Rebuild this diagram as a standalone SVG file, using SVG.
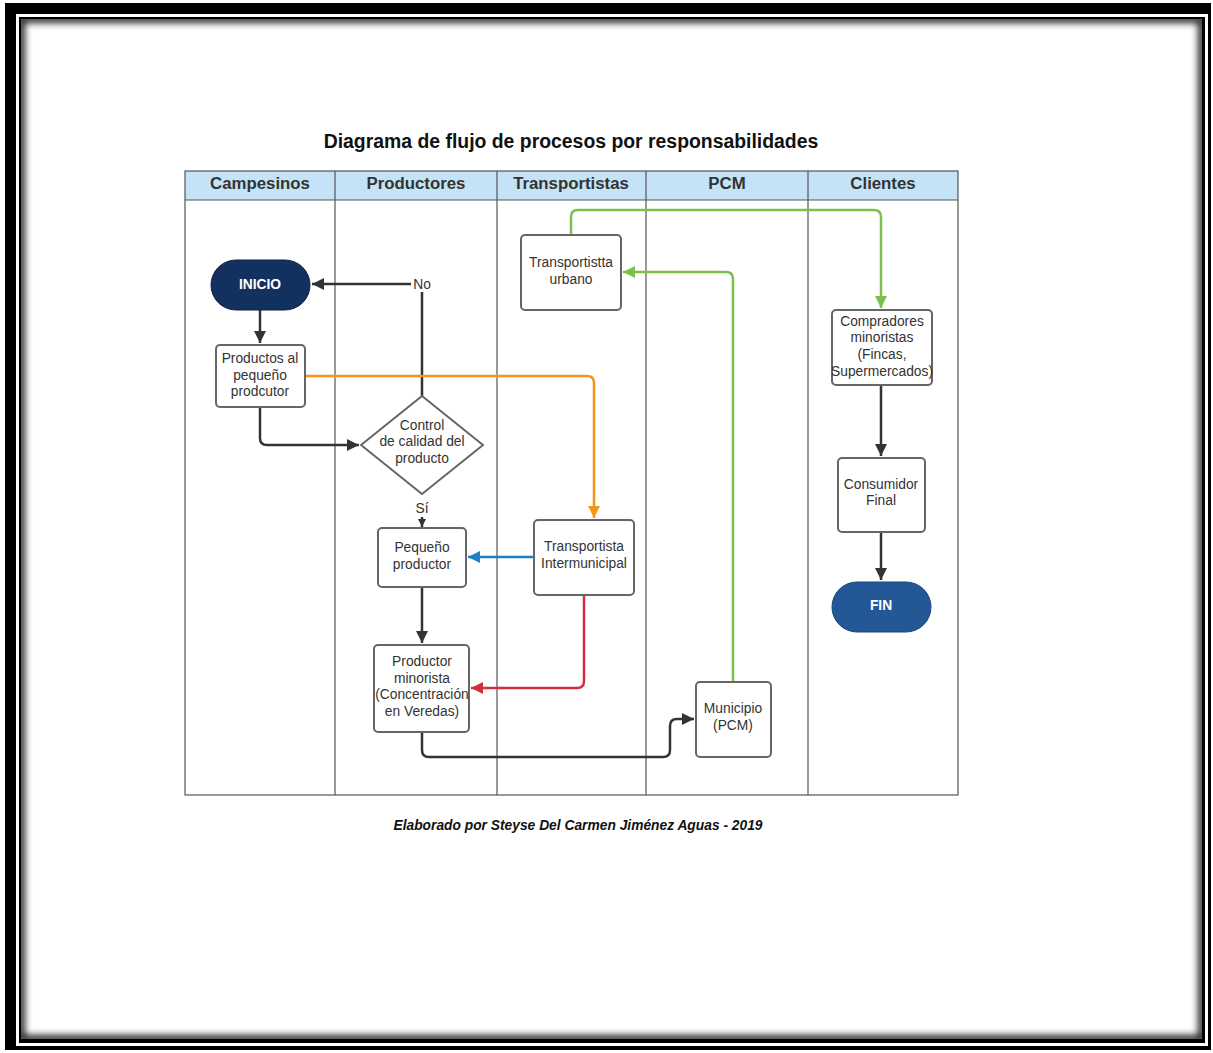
<svg xmlns="http://www.w3.org/2000/svg" width="1213" height="1053" viewBox="0 0 1213 1053">
<defs>
<style>
.hdr{font-family:"Liberation Sans",Arial,sans-serif;font-size:16.8px;font-weight:bold;fill:#333;text-anchor:middle}
.t{font-family:"Liberation Sans",Arial,sans-serif;font-size:13.8px;fill:#333;text-anchor:middle}
.tw{font-family:"Liberation Sans",Arial,sans-serif;font-size:13.8px;font-weight:bold;fill:#fff;text-anchor:middle}
.box{fill:#fff;stroke:#666;stroke-width:2}
.lane{fill:none;stroke:#555;stroke-width:1.2}
.c{fill:none;stroke-width:2.5;stroke-linejoin:round}
</style>
<marker id="aK" markerWidth="12" markerHeight="12" refX="10" refY="5" orient="auto" markerUnits="userSpaceOnUse" viewBox="0 0 10 10"><path d="M0,0 L10,5 L0,10 z" fill="#333"/></marker>
<marker id="aKs" markerWidth="8" markerHeight="8" refX="10" refY="5" orient="auto" markerUnits="userSpaceOnUse" viewBox="0 0 10 10"><path d="M0,0 L10,5 L0,10 z" fill="#333"/></marker>
<marker id="aO" markerWidth="12" markerHeight="12" refX="10" refY="5" orient="auto" markerUnits="userSpaceOnUse" viewBox="0 0 10 10"><path d="M0,0 L10,5 L0,10 z" fill="#f7941d"/></marker>
<marker id="aB" markerWidth="12" markerHeight="12" refX="10" refY="5" orient="auto" markerUnits="userSpaceOnUse" viewBox="0 0 10 10"><path d="M0,0 L10,5 L0,10 z" fill="#1b80c4"/></marker>
<marker id="aR" markerWidth="12" markerHeight="12" refX="10" refY="5" orient="auto" markerUnits="userSpaceOnUse" viewBox="0 0 10 10"><path d="M0,0 L10,5 L0,10 z" fill="#d12f3e"/></marker>
<marker id="aG" markerWidth="12" markerHeight="12" refX="10" refY="5" orient="auto" markerUnits="userSpaceOnUse" viewBox="0 0 10 10"><path d="M0,0 L10,5 L0,10 z" fill="#7cc04b"/></marker>
<clipPath id="inner"><rect x="21" y="19" width="1181" height="1020"/></clipPath>
<filter id="blur" x="-5%" y="-5%" width="110%" height="110%"><feGaussianBlur stdDeviation="3.5"/></filter>
</defs>
<rect width="1213" height="1053" fill="#fff"/>
<g id="frame">
<rect x="5" y="3" width="1206" height="1047" fill="#000"/>
<rect x="16" y="14" width="1192" height="1032" fill="#fff"/>
<rect x="19" y="17" width="1186" height="1026" fill="#000"/>
<rect x="21" y="19" width="1181" height="1020" fill="#fff"/>
<rect x="21" y="19" width="1181" height="1020" fill="none" stroke="#000" stroke-width="8" stroke-opacity="0.85" filter="url(#blur)" clip-path="url(#inner)"/>
</g>
<text x="571" y="148" font-family="Liberation Sans, Arial, sans-serif" font-size="19.4" font-weight="bold" fill="#111" text-anchor="middle">Diagrama de flujo de procesos por responsabilidades</text>
<g id="lanes">
<rect x="185" y="171" width="773" height="29" fill="#c4e3f6"/>
<rect x="185" y="171" width="773" height="624" class="lane"/>
<line x1="185" y1="200" x2="958" y2="200" class="lane"/>
<line x1="335" y1="171" x2="335" y2="795" class="lane"/>
<line x1="497" y1="171" x2="497" y2="795" class="lane"/>
<line x1="646" y1="171" x2="646" y2="795" class="lane"/>
<line x1="808" y1="171" x2="808" y2="795" class="lane"/>
<text x="260" y="189" class="hdr">Campesinos</text>
<text x="416" y="189" class="hdr">Productores</text>
<text x="571" y="189" class="hdr">Transportistas</text>
<text x="727" y="189" class="hdr">PCM</text>
<text x="883" y="189" class="hdr">Clientes</text>
</g>
<g id="connectors">
<path class="c" stroke="#333" d="M260,310 V343" marker-end="url(#aK)"/>
<path class="c" stroke="#333" d="M260,407 V438 Q260,445 267,445 H359" marker-end="url(#aK)"/>
<path class="c" stroke="#333" d="M422,396 V292"/>
<path class="c" stroke="#333" d="M411,284 H312" marker-end="url(#aK)"/>
<path class="c" stroke="#333" stroke-width="1.5" d="M422,517 V527" marker-end="url(#aKs)"/>
<path class="c" stroke="#333" d="M422,587 V643" marker-end="url(#aK)"/>
<path class="c" stroke="#333" d="M422,732 V750 Q422,757 429,757 H663 Q670,757 670,750 V726 Q670,719 677,719 H694" marker-end="url(#aK)"/>
<path class="c" stroke="#f7941d" d="M305,376 H587 Q594,376 594,383 V518" marker-end="url(#aO)"/>
<path class="c" stroke="#1b80c4" d="M534,557 H468" marker-end="url(#aB)"/>
<path class="c" stroke="#d12f3e" d="M584,595 V681 Q584,688 577,688 H471" marker-end="url(#aR)"/>
<path class="c" stroke="#7cc04b" d="M733,682 V279 Q733,272 726,272 H623" marker-end="url(#aG)"/>
<path class="c" stroke="#7cc04b" d="M571,235 V217 Q571,210 578,210 H874 Q881,210 881,217 V308" marker-end="url(#aG)"/>
<path class="c" stroke="#333" d="M881,385 V456" marker-end="url(#aK)"/>
<path class="c" stroke="#333" d="M881,532 V580" marker-end="url(#aK)"/>
<text x="422" y="289" class="t">No</text>
<text x="422" y="513" class="t">Sí</text>
</g>
<g id="inicio">
<rect x="211" y="260" width="99" height="50" rx="25" fill="#12315f" stroke="#0d2548" stroke-width="1"/>
<text x="260" y="289" class="tw">INICIO</text>
</g>
<g id="productos">
<rect x="216" y="345" width="89" height="62" rx="4" class="box"/>
<text x="260" y="363" class="t">Productos al</text>
<text x="260" y="380" class="t">pequeño</text>
<text x="260" y="396" class="t">prodcutor</text>
</g>
<g id="control">
<path d="M422,396 L483,445 L422,494 L361,445 z" class="box" stroke-linejoin="round"/>
<text x="422" y="430" class="t">Control</text>
<text x="422" y="446" class="t">de calidad del</text>
<text x="422" y="463" class="t">producto</text>
</g>
<g id="pequeno">
<rect x="378" y="528" width="88" height="59" rx="4" class="box"/>
<text x="422" y="552" class="t">Pequeño</text>
<text x="422" y="569" class="t">productor</text>
</g>
<g id="minorista">
<rect x="374" y="645" width="95" height="87" rx="4" class="box"/>
<text x="422" y="666" class="t">Productor</text>
<text x="422" y="683" class="t">minorista</text>
<text x="422" y="699" class="t">(Concentración</text>
<text x="422" y="716" class="t">en Veredas)</text>
</g>
<g id="urbano">
<rect x="521" y="235" width="100" height="75" rx="4" class="box"/>
<text x="571" y="267" class="t">Transportistta</text>
<text x="571" y="284" class="t">urbano</text>
</g>
<g id="intermunicipal">
<rect x="534" y="520" width="100" height="75" rx="4" class="box"/>
<text x="584" y="551" class="t">Transportista</text>
<text x="584" y="568" class="t">Intermunicipal</text>
</g>
<g id="municipio">
<rect x="696" y="682" width="75" height="75" rx="4" class="box"/>
<text x="733" y="713" class="t">Municipio</text>
<text x="733" y="730" class="t">(PCM)</text>
</g>
<g id="compradores">
<rect x="832" y="310" width="100" height="75" rx="4" class="box"/>
<text x="882" y="326" class="t">Compradores</text>
<text x="882" y="342" class="t">minoristas</text>
<text x="882" y="359" class="t">(Fincas,</text>
<text x="882" y="376" class="t">Supermercados)</text>
</g>
<g id="consumidor">
<rect x="838" y="458" width="87" height="74" rx="4" class="box"/>
<text x="881" y="489" class="t">Consumidor</text>
<text x="881" y="505" class="t">Final</text>
</g>
<g id="fin">
<rect x="832" y="582" width="99" height="50" rx="25" fill="#235796" stroke="#1b4678" stroke-width="1"/>
<text x="881" y="610" class="tw">FIN</text>
</g>
<text x="578" y="830" font-family="Liberation Sans, Arial, sans-serif" font-size="13.8" font-weight="bold" font-style="italic" fill="#111" text-anchor="middle">Elaborado por Steyse Del Carmen Jiménez Aguas - 2019</text>
</svg>
